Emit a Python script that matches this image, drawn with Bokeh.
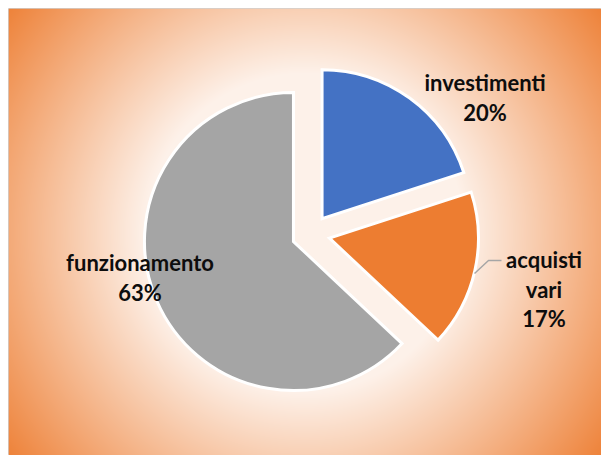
import numpy as np
from bokeh.plotting import figure
from bokeh.models import Range1d
from bokeh.core.properties import value
from bokeh.embed import file_html
from bokeh.resources import INLINE

# ---- data ----
categories = ["investimenti", "acquisti vari", "funzionamento"]
values = [20, 17, 63]
colors = ["#4472C4", "#ED7D31", "#A5A5A5"]

# ---- layout (pixels) ----
W, H = 593, 447              # chart area
CX, CY = 302.4, 221.5        # pie centre
R = 149                      # pie radius
EXPLODE = 19                 # explosion distance
label_anchor = [(476.5, 373), (535.5, 196), (131.5, 193)]  # first-line baseline centre
LINE_STEP = 29.5
leader_x = [466, 480, 493]
leader_y = [182, 195, 195]

p = figure(width=W + 8, height=H + 8, output_backend="svg", toolbar_location=None,
           x_range=Range1d(0, W), y_range=Range1d(0, H),
           min_border_left=8, min_border_top=8, min_border_right=0, min_border_bottom=0,
           x_axis_location=None, y_axis_location=None)
p.grid.visible = False
p.outline_line_color = "#D0D0D0"
p.background_fill_color = "white"
p.border_fill_color = "white"

# ---- radial gradient background ----
yy, xx = np.mgrid[0:H, 0:W] + 0.5
gcx, gcy = 296.5, 223.0
dist = np.hypot(xx - gcx, yy - gcy) / 371.0
f = np.clip((dist - 0.43) / 0.6, 0, 1)
c0 = np.array([253, 241, 233])
c1 = np.array([237, 125, 49])
img = np.empty((H, W), dtype=np.uint32)
view = img.view(dtype=np.uint8).reshape((H, W, 4))
for k in range(3):
    view[:, :, k] = np.round(c0[k] + (c1[k] - c0[k]) * f).astype(np.uint8)
view[:, :, 3] = 255
p.image_rgba(image=[img], x=0, y=0, dw=W, dh=H)

# ---- pie ----
vals = np.array(values, dtype=float)
frac = vals / vals.sum()
cum = np.concatenate([[0.0], np.cumsum(frac)])
th1 = cum[:-1] * 2 * np.pi
th2 = cum[1:] * 2 * np.pi
mid = (th1 + th2) / 2
start = np.pi / 2 - th2
end = np.pi / 2 - th1
xs = CX + EXPLODE * np.sin(mid)
ys = CY + EXPLODE * np.cos(mid)
p.wedge(x=xs, y=ys, radius=R, start_angle=start, end_angle=end,
        fill_color=colors, line_color="white", line_width=3, line_join="miter")

# ---- leader line ----
p.line(leader_x, leader_y, line_color="#A6A6A6", line_width=1.5)

# ---- labels ----
tx, ty, tt = [], [], []
for cat, fr, (ax, ay) in zip(categories, frac, label_anchor):
    lines = cat.split(" ") + [f"{round(fr * 100)}%"]
    for i, ln in enumerate(lines):
        tx.append(ax)
        ty.append(ay - i * LINE_STEP)
        tt.append(ln)
p.text(x=tx, y=ty, text=tt, text_font=value("Lato"), text_font_style="bold",
       text_font_size="22px", text_align="center", text_baseline="alphabetic",
       text_color="#0D0D0D")

open("out.html", "w").write(file_html(p, INLINE))
